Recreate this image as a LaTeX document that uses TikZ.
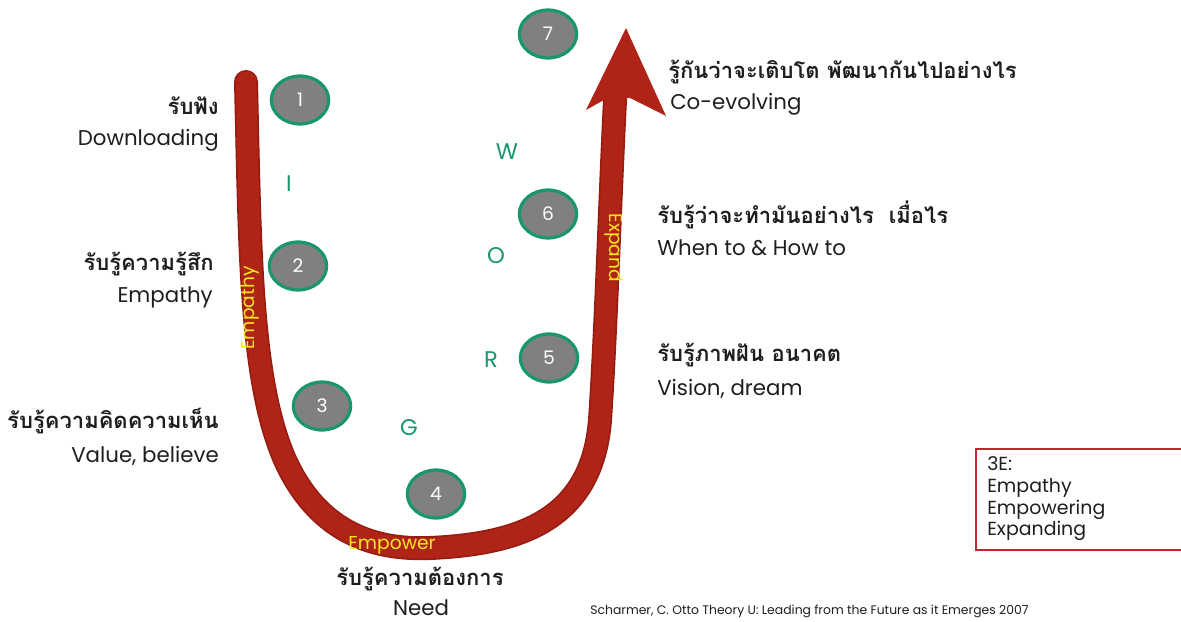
\documentclass[tikz,border=0pt]{standalone}
\usepackage{fontspec}
\setmainfont{Poppins}
\newfontfamily\thai[Script=Thai]{Loma}
\usetikzlibrary{shapes.geometric}
\definecolor{ured}{RGB}{176,36,24}
\definecolor{uredd}{RGB}{150,28,18}
\definecolor{stagegray}{RGB}{128,128,130}
\definecolor{stagegreen}{RGB}{24,150,110}
\definecolor{lblyellow}{RGB}{245,232,30}
\definecolor{boxred}{RGB}{196,38,44}
\definecolor{txt}{RGB}{30,30,30}
\begin{document}
\begin{tikzpicture}[x=0.75pt,y=-0.75pt,
  stage/.style={ellipse,minimum width=43pt,minimum height=36pt,inner sep=0pt,
    fill=stagegray,draw=stagegreen,line width=2.4pt,text=white,
    font=\fontsize{14}{14}\selectfont},
  letter/.style={text=stagegreen,font=\fontsize{17}{17}\selectfont,inner sep=0pt},
  thaiL/.style={text=txt,font=\thai\bfseries\fontsize{16.5}{16.5}\selectfont,inner sep=0pt},
  latL/.style={text=txt,font=\fontsize{16}{16}\selectfont,inner sep=0pt},
  armlbl/.style={text=lblyellow,font=\fontsize{14}{14}\selectfont,inner sep=0pt},
  boxtxt/.style={text=txt,font=\fontsize{14.2}{14.2}\selectfont,inner sep=0pt,anchor=west}]
\useasboundingbox (0,0) rectangle (1181,621);

% the U-shaped path
\draw[uredd,line width=18pt,line cap=round]
  (246,82) .. controls (250,250) and (250,380) .. (285,460)
  .. controls (320,537) and (380,550) .. (430,548)
  .. controls (520,544) and (592,520) .. (600,420)
  .. controls (606,330) and (610,200) .. (615,100);
\draw[ured,line width=15.5pt,line cap=round]
  (246,82) .. controls (250,250) and (250,380) .. (285,460)
  .. controls (320,537) and (380,550) .. (430,548)
  .. controls (520,544) and (592,520) .. (600,420)
  .. controls (606,330) and (610,200) .. (615,100);
% arrow head
\fill[ured] (626,28) -- (666,116) -- (630,98) -- (604,100) -- (586,110) -- cycle;

% labels along the path
\node[armlbl,rotate=90] (lemp) at (250,308) {Empathy};
\node[armlbl,rotate=-90] (lexp) at (614,248) {Expand};
\node[armlbl] (lpow) at (392,545) {Empower};

% stages
\node[stage] (s1) at (300,100) {1};
\node[stage] (s2) at (298,266) {2};
\node[stage] (s3) at (322,406) {3};
\node[stage] (s4) at (436,494) {4};
\node[stage] (s5) at (549,358) {5};
\node[stage] (s6) at (548,214) {6};
\node[stage] (s7) at (548,34) {7};

% GROWI
\node[letter] (lI) at (289,184) {I};
\node[letter] (lW) at (507,152) {W};
\node[letter] (lO) at (496,256) {O};
\node[letter] (lR) at (491,360) {R};
\node[letter] (lG) at (409,428) {G};

% left descriptions
\node[thaiL,anchor=east] (t1) at (219,106) {รับฟัง};
\node[latL,anchor=east] (e1) at (219,140) {Downloading};
\node[thaiL,anchor=east] (t2) at (214,264) {รับรู้ความรู้สึก};
\node[latL,anchor=east] (e2) at (213,297) {Empathy};
\node[thaiL,anchor=east] (t3) at (219,421) {รับรู้ความคิดความเห็น};
\node[latL,anchor=east] (e3) at (219,456) {Value, believe};

% bottom description
\node[thaiL] (t4) at (420,579) {รับรู้ความต้องการ};
\node[latL] (e4) at (421,608) {Need};

% right descriptions
\node[thaiL,anchor=west] (t7) at (668,72) {รู้กันว่าจะเติบโต พัฒนากันไปอย่างไร};
\node[latL,anchor=west] (e7) at (670,104) {Co-evolving};
\node[thaiL,anchor=west] (t6) at (657,215) {รับรู้ว่าจะทำมันอย่างไร\ \ เมื่อไร};
\node[latL,anchor=west] (e6) at (657,248) {When to \& How to};
\node[thaiL,anchor=west] (t5) at (657,355) {รับรู้ภาพฝัน อนาคต};
\node[latL,anchor=west] (e5) at (657,389) {Vision, dream};

% 3E box
\draw[boxred,line width=2.2pt] (1190,449) -- (976,449) -- (976,550) -- (1190,550);
\node[boxtxt] (b0) at (987,464) {3E:};
\node[boxtxt] (b1) at (987,488) {Empathy};
\node[boxtxt] (b2) at (987,510) {Empowering};
\node[boxtxt] (b3) at (987,531) {Expanding};

% reference
\node[text=txt,font=\fontsize{9.3}{9.3}\selectfont,inner sep=0pt,anchor=west] (ref) at (590,611)
  {Scharmer, C. Otto Theory U: Leading from the Future as it Emerges 2007};
\end{tikzpicture}
\end{document}
